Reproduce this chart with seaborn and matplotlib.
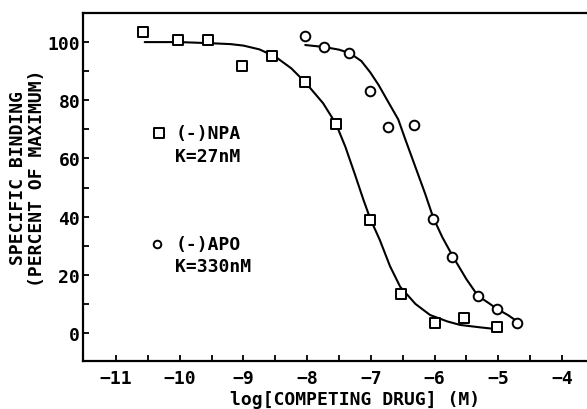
import matplotlib
matplotlib.use("Agg")
import matplotlib.pyplot as plt
import seaborn as sns
import pandas as pd

# ---- data ----
npa_x = [-10.58, -10.03, -9.55, -9.02, -8.55, -8.03, -7.55, -7.01, -6.53, -6.00, -5.54, -5.02]
npa_y = [103.4, 100.7, 100.7, 91.7, 95.2, 86.2, 72.0, 39.0, 13.4, 3.4, 5.2, 2.1]

apo_x = [-8.03, -7.73, -7.34, -7.02, -6.73, -6.32, -6.02, -5.73, -5.32, -5.02, -4.70]
apo_y = [102.0, 98.3, 96.2, 83.1, 70.7, 71.4, 39.3, 26.2, 12.8, 8.3, 3.4]

npa_curve_x = [-10.55, -10.0, -9.5, -9.2, -9.0, -8.75, -8.5, -8.25, -8.03, -7.75, -7.55, -7.4,
               -7.25, -7.12, -7.01, -6.86, -6.7, -6.54, -6.3, -6.07, -5.8, -5.6, -5.3, -5.05]
npa_curve_y = [100, 100, 99.6, 99.3, 98.8, 97.5, 95, 91, 86.2, 79, 72, 64,
               54.5, 46, 39.3, 32, 23, 15.9, 10, 6.2, 4, 2.8, 2, 1.4]

apo_curve_x = [-8.03, -7.73, -7.5, -7.33, -7.15, -7.01, -6.88, -6.75, -6.57, -6.46, -6.3, -6.15,
               -6.02, -5.88, -5.71, -5.5, -5.32, -5.15, -5.02, -4.85, -4.71]
apo_curve_y = [99, 98.3, 97.4, 96.2, 93.5, 89.6, 85.3, 80.3, 73.4, 66.6, 57, 48,
               39.6, 33, 26.2, 18.5, 12.8, 10.3, 8.3, 6.2, 4.1]

x_ticks = [-11, -10, -9, -8, -7, -6, -5, -4]
y_ticks = [0, 20, 40, 60, 80, 100]

legend_lines = [("(-)NPA", "K=27nM"), ("(-)APO", "K=330nM")]

# ---- figure ----
sns.set_style("ticks")
FONT = ['DejaVu Sans Mono', 'DejaVu Sans']
plt.rcParams['font.family'] = FONT
plt.rcParams['text.color'] = 'black'
plt.rcParams['axes.labelcolor'] = 'black'

fig = plt.figure(figsize=(5.87, 4.10), dpi=100)
W, H = 587, 410
left, right, top, bottom = 83, 587, 14, 362
ax = fig.add_axes([left / W, (H - bottom) / H, (right - left) / W, (bottom - top) / H])

npa_pts = pd.DataFrame({"x": npa_x, "y": npa_y})
apo_pts = pd.DataFrame({"x": apo_x, "y": apo_y})
npa_c = pd.DataFrame({"x": npa_curve_x, "y": npa_curve_y})
apo_c = pd.DataFrame({"x": apo_curve_x, "y": apo_curve_y})

sns.lineplot(data=npa_c, x="x", y="y", ax=ax, color="black", lw=1.5, sort=False)
sns.lineplot(data=apo_c, x="x", y="y", ax=ax, color="black", lw=1.5, sort=False)
sns.scatterplot(data=npa_pts, x="x", y="y", ax=ax, marker="s", s=50,
                facecolor="white", edgecolor="black", linewidth=1.4, zorder=3)
sns.scatterplot(data=apo_pts, x="x", y="y", ax=ax, marker="o", s=48,
                facecolor="white", edgecolor="black", linewidth=1.4, zorder=3)

ax.set_xlim(-11.518, -3.608)
ax.set_ylim(-9.6, 110)

ax.set_xticks(x_ticks)
ax.set_xticklabels([str(t).replace("-", "\u2212") for t in x_ticks])
ax.set_xticks([t + 0.5 for t in x_ticks[:-1]], minor=True)
ax.set_yticks(y_ticks)
ax.set_yticks([10, 30, 50, 70, 90], minor=True)

ax.tick_params(axis="both", which="both", direction="in", length=4, width=1.3,
               colors="black", labelsize=13)
ax.tick_params(axis="x", pad=6)
ax.tick_params(axis="y", pad=2)
for lab in ax.get_xticklabels() + ax.get_yticklabels():
    lab.set_fontweight("bold")

for side in ["left", "bottom", "top"]:
    ax.spines[side].set_linewidth(1.6)
    ax.spines[side].set_color("black")
ax.spines["right"].set_visible(False)

ax.set_xlabel("")
ax.set_ylabel("")
fig.text(355 / W, 1 - 400 / H, "log[COMPETING DRUG] (M)", fontsize=13, fontweight="bold",
         ha="center", va="center")
fig.text(18 / W, 1 - 178 / H, "SPECIFIC BINDING", fontsize=13, fontweight="bold",
         ha="center", va="center", rotation=90)
fig.text(37.5 / W, 1 - 178 / H, "(PERCENT OF MAXIMUM)", fontsize=13, fontweight="bold",
         ha="center", va="center", rotation=90)

# in-plot legend text
ax.scatter([-10.32], [68.6], marker="s", s=45, facecolor="white", edgecolor="black", linewidths=1.4)
ax.text(-10.07, 68.6, legend_lines[0][0], fontsize=13, fontweight="bold", va="center")
ax.text(-10.07, 61.0, legend_lines[0][1], fontsize=13, fontweight="bold", va="center")
ax.scatter([-10.36], [30.7], marker="o", s=30, facecolor="white", edgecolor="black", linewidths=1.4)
ax.text(-10.07, 30.7, legend_lines[1][0], fontsize=13, fontweight="bold", va="center")
ax.text(-10.07, 23.1, legend_lines[1][1], fontsize=13, fontweight="bold", va="center")

fig.savefig("out.png", dpi=100)
